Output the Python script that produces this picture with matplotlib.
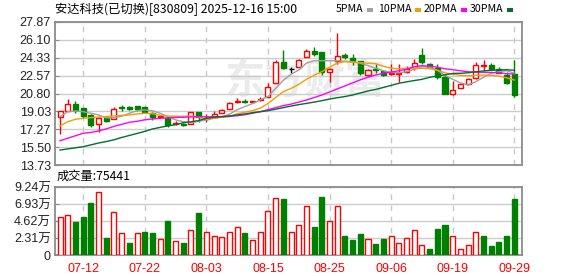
import numpy as np
import matplotlib
matplotlib.use('Agg')
import matplotlib.pyplot as plt
from matplotlib.patches import Rectangle

# candles (60 trading days)
opens = [18.45, 19.10, 19.73, 19.34, 18.67, 17.75, 18.35, 18.28, 19.50, 19.50,
         19.56, 19.44, 18.87, 18.45, 18.35, 17.75, 17.78, 17.75, 18.97, 18.28,
         18.45, 18.84, 19.24, 19.96, 20.06, 20.00, 20.16, 20.42, 21.81, 23.88,
         23.19, 23.39, 24.38, 25.00, 24.87, 22.96, 24.04, 24.61, 24.28, 24.01,
         22.63, 23.22, 23.03, 22.73, 22.73, 22.96, 23.35, 24.61, 23.72, 23.35,
         22.46, 20.72, 21.31, 21.74, 22.30, 23.52, 23.62, 23.19, 22.63, 22.73]
highs = [19.10, 20.26, 20.09, 19.40, 18.74, 18.45, 18.58, 19.44, 19.66, 19.60,
         19.60, 19.50, 19.00, 18.68, 18.48, 18.11, 17.85, 18.97, 18.97, 18.74,
         19.07, 19.27, 20.00, 20.38, 20.30, 20.10, 20.49, 21.81, 24.11, 25.10,
         23.45, 24.21, 25.20, 25.43, 24.90, 23.30, 26.81, 24.78, 24.68, 24.04,
         23.22, 23.69, 23.12, 23.69, 23.72, 23.52, 24.21, 25.30, 23.85, 23.72,
         22.63, 22.04, 21.74, 22.36, 23.94, 24.11, 23.79, 23.45, 22.96, 24.11]
lows = [16.77, 19.10, 18.87, 18.35, 17.52, 17.02, 17.99, 18.28, 19.04, 19.17,
        19.07, 18.94, 18.21, 18.35, 17.46, 17.69, 17.62, 17.75, 18.01, 18.03,
        18.45, 18.84, 19.24, 19.89, 19.89, 19.96, 20.06, 20.42, 21.81, 23.19,
        22.86, 23.39, 24.38, 24.54, 22.63, 21.97, 23.69, 24.21, 23.62, 22.63,
        22.56, 22.80, 22.53, 22.63, 21.97, 22.80, 23.12, 23.72, 23.29, 22.20,
        20.75, 20.65, 21.31, 21.64, 22.23, 23.06, 23.12, 22.80, 21.71, 20.48]
closes = [19.07, 19.76, 19.17, 18.60, 17.69, 18.41, 18.11, 19.24, 19.37, 19.27,
          19.27, 19.00, 18.51, 18.55, 17.69, 17.85, 17.71, 18.97, 18.45, 18.38,
          18.77, 19.17, 19.83, 20.06, 20.00, 20.06, 20.26, 21.47, 23.94, 23.29,
          23.19, 24.11, 25.00, 24.68, 22.96, 23.22, 24.51, 24.38, 24.01, 22.80,
          23.12, 23.12, 22.63, 22.86, 22.83, 23.22, 23.79, 23.94, 23.45, 22.46,
          20.75, 21.15, 21.74, 22.20, 23.62, 23.62, 23.22, 22.86, 21.87, 20.65]

# moving averages as drawn
ma5 = [18.51, 19.00, 19.07, 19.00, 18.85, 18.68, 18.40, 18.40, 18.55, 18.84,
       19.10, 19.17, 19.10, 18.85, 18.51, 18.20, 18.01, 17.90, 18.05, 18.20,
       18.35, 18.50, 18.75, 19.20, 19.50, 19.80, 20.16, 20.50, 21.30, 22.10,
       22.70, 23.12, 23.80, 24.04, 24.04, 24.04, 24.04, 24.00, 23.94, 23.80,
       23.55, 23.30, 23.05, 22.88, 22.85, 22.95, 23.20, 23.45, 23.40, 23.10,
       22.60, 22.20, 21.85, 21.64, 21.97, 22.40, 22.80, 22.95, 23.06, 22.80]
ma10 = [17.59, 18.01, 18.25, 18.35, 18.41, 18.48, 18.52, 18.58, 18.62, 18.68,
        18.78, 18.84, 18.80, 18.65, 18.58, 18.55, 18.55, 18.57, 18.45, 18.30,
        18.35, 18.45, 18.50, 18.80, 18.95, 19.10, 19.35, 19.80, 20.40, 20.98,
        21.30, 21.70, 22.20, 22.60, 22.96, 23.40, 23.80, 23.94, 23.90, 23.85,
        23.80, 23.75, 23.50, 23.30, 23.25, 23.29, 23.29, 23.29, 23.25, 23.10,
        22.85, 22.70, 22.60, 22.56, 22.60, 22.63, 22.60, 22.53, 22.35, 22.13]
ma20 = [16.13, 16.38, 16.62, 16.87, 16.95, 17.10, 17.30, 17.55, 17.75, 17.95,
        18.05, 18.20, 18.28, 18.35, 18.40, 18.43, 18.45, 18.48, 18.50, 18.50,
        18.50, 18.52, 18.55, 18.60, 18.70, 18.85, 19.00, 19.20, 19.40, 19.60,
        19.75, 19.95, 20.15, 20.40, 20.65, 20.95, 21.25, 21.55, 21.85, 22.15,
        22.40, 22.63, 22.80, 22.92, 23.05, 23.20, 23.45, 23.55, 23.50, 23.40,
        23.25, 23.15, 23.05, 22.95, 22.90, 22.90, 22.88, 22.85, 22.75, 22.73]
ma30 = [15.21, 15.32, 15.43, 15.54, 15.72, 15.90, 16.05, 16.22, 16.45, 16.65,
        16.85, 17.05, 17.29, 17.45, 17.60, 17.72, 17.91, 18.00, 18.12, 18.35,
        18.45, 18.50, 18.58, 18.68, 18.78, 18.90, 19.00, 19.10, 19.25, 19.40,
        19.56, 19.70, 19.82, 19.95, 20.09, 20.25, 20.38, 20.50, 20.65, 20.85,
        21.05, 21.20, 21.40, 21.60, 21.81, 21.95, 22.08, 22.20, 22.40, 22.53,
        22.65, 22.78, 22.80, 22.85, 22.95, 23.03, 23.10, 23.12, 23.15, 23.10]

# volume in 万 shares, colour as shown (r = up, g = down)
volume = [5.12, 5.43, 4.54, 5.21, 7.12, 8.59, 2.31, 5.87, 3.03, 1.60,
          3.03, 3.07, 2.94, 2.14, 4.67, 1.96, 1.60, 3.34, 5.74, 3.07,
          2.54, 2.40, 3.07, 3.87, 2.94, 2.00, 3.07, 6.01, 7.74, 7.61,
          3.07, 4.14, 6.68, 3.74, 7.88, 4.63, 6.68, 2.54, 2.00, 2.80,
          2.14, 1.47, 2.14, 2.63, 1.69, 2.27, 3.34, 1.42, 0.80, 3.47,
          4.14, 2.63, 0.80, 1.34, 3.16, 2.54, 1.20, 1.74, 2.54, 7.5441]
vol_dir = 'rrgggrgrrgrggrgrgrgrrrrrgrrrrgrrrggrrgggrggrrrrrgggrrrrggggg'

price_ticks = [27.87, 26.10, 24.33, 22.57, 20.80, 19.03, 17.27, 15.50, 13.73]
vol_ticks = [0, 2.31, 4.62, 6.93, 9.24]
vol_labels = ['0', '2.31万', '4.62万', '6.93万', '9.24万']
date_pos = [3, 11, 19, 27, 35, 43, 51, 59]
date_labels = ['07-12', '07-22', '08-03', '08-15', '08-25', '09-06', '09-19', '09-29']

title = '安达科技(已切换)[830809] 2025-12-16 15:00'
ma_names = ['5PMA', '10PMA', '20PMA', '30PMA']
ma_colors = ['#a0a0a0', '#f0a000', '#ff00ff', '#006e32']

RED = '#ff0000'
GREEN = '#008000'
CJK = ['Noto Sans CJK SC', 'DejaVu Sans']
NUM = ['Liberation Sans', 'Noto Sans CJK SC']

W, H = 578, 276
fig = plt.figure(figsize=(W / 100, H / 100), dpi=100)
fig.patch.set_facecolor('white')

def box(x0, y0, x1, y1):
    # pixel box (top-left origin) -> figure fraction
    return [x0 / W, (H - y1) / H, (x1 - x0) / W, (y1 - y0) / H]

ax = fig.add_axes(box(55, 22, 522, 165))
axv = fig.add_axes(box(55, 187, 522, 255))

x = np.arange(len(opens))
bw = 0.65

# watermark
ax.text(0.535, 0.58, '东方财富', transform=ax.transAxes, ha='center', va='center',
        fontsize=29, fontweight='bold', color='#ebebeb', family=CJK, zorder=0)

# price panel
for i in x:
    o, h, l, c = opens[i], highs[i], lows[i], closes[i]
    if c > o:
        col, face = RED, 'white'
    elif c < o:
        col, face = GREEN, GREEN
    else:
        col, face = 'black', 'black'
    ax.vlines(i, l, h, color=col, linewidth=1.0, zorder=3)
    ax.bar(i, max(abs(c - o), 0.03), bottom=min(o, c), width=bw,
           facecolor=face, edgecolor=col, linewidth=1.0, zorder=4)

for vals, col in zip([ma5, ma10, ma20, ma30], ma_colors):
    ax.plot(x, vals, color=col, linewidth=1.0, zorder=5)

ax.set_xlim(-0.65, 60.0)
ax.set_ylim(13.73, 27.87)
ax.set_yticks(price_ticks)
ax.set_yticklabels(['%.2f' % v for v in price_ticks])
ax.set_xticks(date_pos)
ax.set_xticklabels([])

# volume panel
for i in x:
    if vol_dir[i] == 'r':
        axv.bar(i, volume[i], width=bw, facecolor='white', edgecolor=RED,
                linewidth=1.0, zorder=3)
    else:
        axv.bar(i, volume[i], width=bw, facecolor=GREEN, edgecolor=GREEN,
                linewidth=1.0, zorder=3)
axv.set_xlim(-0.65, 60.0)
axv.set_ylim(0, 9.24)
axv.set_yticks(vol_ticks)
axv.set_yticklabels(vol_labels)
axv.set_xticks(date_pos)
axv.set_xticklabels(date_labels)

for a in (ax, axv):
    a.set_facecolor('white')
    a.grid(axis='y', color='#cccccc', linewidth=1.0, linestyle='-', zorder=1)
    a.grid(axis='x', color='#c8c8c8', linewidth=1.0, linestyle=(0, (4, 4)), zorder=1)
    a.set_axisbelow(True)
    for s in a.spines.values():
        s.set_color('#8c8c8c')
        s.set_linewidth(1.3)
    a.tick_params(axis='y', direction='in', length=3, color='#8c8c8c', pad=3,
                  labelsize=9, labelcolor='#222222')
    a.tick_params(axis='x', length=0, pad=6, labelsize=9, labelcolor=RED)
    for t in a.get_yticklabels() + a.get_xticklabels():
        t.set_family(NUM)

# header texts
fig.text(55 / W, 1 - 9 / H, title, ha='left', va='center', fontsize=8.8,
         family=CJK, color='black')

renderer = fig.canvas.get_renderer()
name_x = [336, 378, 424, 470]
for nm, nx, col in zip(ma_names, name_x, ma_colors):
    t = fig.text(nx / W, 1 - 9 / H, nm, ha='left', va='center', fontsize=7.6,
                 family=CJK, color='black')
    ext = t.get_window_extent(renderer)
    sx = ext.x1 + 3
    fig.patches.append(Rectangle((sx / W, 1 - 12 / H), 6 / W, 4 / H,
                                 transform=fig.transFigure, facecolor=col,
                                 edgecolor='none'))

fig.text(57 / W, 1 - 176 / H, '成交量:%d' % round(volume[-1] * 10000), ha='left',
         va='center', fontsize=8.8, family=CJK, color='black')

fig.savefig('out.png', dpi=100, facecolor='white')
